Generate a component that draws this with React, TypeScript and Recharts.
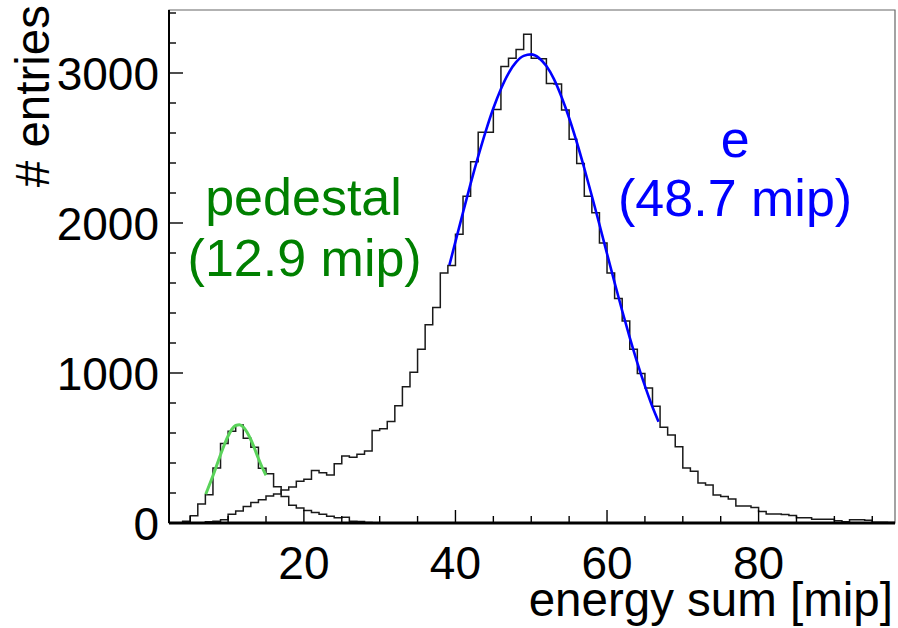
import React from 'react';
import { ComposedChart, Line, XAxis, YAxis, ReferenceArea, ReferenceDot } from 'recharts';

// Pedestal histogram: lower bin edges and counts (bin width 1 mip)
const pedestalBins = [3, 4, 5, 6, 7, 8, 9, 10, 11, 12, 13, 14, 15, 16, 17, 18, 19, 20, 21, 22, 23, 24, 25, 26, 27, 28, 29];
const pedestalCounts = [0, 12, 48, 126, 188, 367, 530, 611, 654, 565, 505, 365, 328, 242, 177, 118, 100, 84, 70, 58, 45, 35, 38, 12, 10, 4, 0];

// Electron histogram
const electronBins = [6, 7, 8, 9, 10, 11, 12, 13, 14, 15, 16, 17, 18, 19, 20, 21, 22, 23, 24, 25, 26, 27, 28, 29, 30, 31, 32, 33, 34, 35, 36, 37, 38, 39, 40, 41, 42, 43, 44, 45, 46, 47, 48, 49, 50, 51, 52, 53, 54, 55, 56, 57, 58, 59, 60, 61, 62, 63, 64, 65, 66, 67, 68, 69, 70, 71, 72, 73, 74, 75, 76, 77, 78, 79, 80, 81, 82, 83, 84, 85, 86, 87, 88, 89, 90, 91, 92, 93, 94, 95, 96, 97];
const electronCounts = [0, 8, 12, 22, 58, 80, 110, 137, 155, 180, 193, 220, 240, 278, 292, 350, 335, 320, 395, 447, 438, 458, 480, 617, 628, 677, 782, 908, 1005, 1158, 1321, 1437, 1667, 1716, 1925, 2178, 2409, 2605, 2605, 2757, 3043, 3098, 3156, 3258, 3098, 3095, 2930, 2926, 2753, 2558, 2397, 2179, 2068, 1867, 1667, 1496, 1347, 1158, 997, 900, 778, 639, 587, 508, 366, 345, 266, 253, 187, 176, 160, 113, 113, 104, 76, 60, 60, 57, 50, 35, 35, 25, 25, 25, 15, 8, 22, 22, 18, 5, 5, 3];

// Fitted curves
const greenFitX = [7.05, 7.5, 8, 8.5, 9, 9.5, 10, 10.5, 11, 11.5, 12, 12.5, 13, 13.5, 14, 14.5, 15];
const greenFitY = [192, 250, 315, 385, 455, 522, 580, 625, 650, 655, 640, 605, 555, 495, 430, 370, 318];
const blueFitX = [39.2, 40, 41, 42, 43, 44, 45, 46, 47, 48, 49, 50, 51, 52, 53, 54, 55, 56, 57, 58, 59, 60, 61, 62, 63, 64, 65, 66, 66.8];
const blueFitY = [1719, 1876, 2071, 2262, 2444, 2613, 2765, 2894, 2998, 3072, 3114, 3124, 3101, 3046, 2959, 2840, 2700, 2540, 2365, 2180, 1990, 1795, 1603, 1415, 1236, 1068, 914, 773, 675];

// Axes
const xTicks = [5, 10, 15, 20, 25, 30, 35, 40, 45, 50, 55, 60, 65, 70, 75, 80, 85, 90, 95];
const xMajor = [20, 40, 60, 80];
const yTicks = [0, 200, 400, 600, 800, 1000, 1200, 1400, 1600, 1800, 2000, 2200, 2400, 2600, 2800, 3000, 3200, 3400];
const yMajor = [0, 1000, 2000, 3000];
const X_MIN = 2.2;
const X_MAX = 98;
const Y_MAX = 3420;

// Annotations
const annotationText = ['pedestal', '(12.9 mip)', 'e', '(48.7 mip)'];
const annotationX = [19.95, 20.1, 76.9, 76.9];
const annotationY = [2177, 1773, 2563, 2173];
const annotationColor = ['#008000', '#008000', '#0000ff', '#0000ff'];

const FONT = '"Liberation Sans", Arial, Helvetica, sans-serif';

const toSteps = (edges: number[], counts: number[]) => {
  const pts = edges.map((e, i) => ({ x: e, y: counts[i] }));
  pts.push({ x: edges[edges.length - 1] + 1, y: counts[counts.length - 1] });
  return pts;
};
const toPts = (xs: number[], ys: number[]) => xs.map((x, i) => ({ x, y: ys[i] }));

const pedestalData = toSteps(pedestalBins, pedestalCounts);
const electronData = toSteps(electronBins, electronCounts);
const greenData = toPts(greenFitX, greenFitY);
const blueData = toPts(blueFitX, blueFitY);

const XTick = (props: any) => {
  const { x, y, payload } = props;
  const v = payload.value;
  const major = xMajor.includes(v);
  return (
    <g>
      <line x1={x} x2={x} y1={y} y2={y - (major ? 13 : 7)} stroke="#000" strokeWidth={1.4} />
      {major && (
        <text x={x} y={y + 56} textAnchor="middle" fontSize={46} fontFamily={FONT} fill="#000">
          {v}
        </text>
      )}
    </g>
  );
};

const YTick = (props: any) => {
  const { x, y, payload } = props;
  const v = payload.value;
  const major = yMajor.includes(v);
  return (
    <g>
      <line x1={x} x2={x + (major ? 14 : 7)} y1={y} y2={y} stroke="#000" strokeWidth={1.4} />
      {major && (
        <text x={x - 10} y={y} dy="0.36em" textAnchor="end" fontSize={46} fontFamily={FONT} fill="#000">
          {v}
        </text>
      )}
    </g>
  );
};

const XTitle = (props: any) => {
  const vb = props.viewBox || { x: 169, y: 523, width: 726, height: 60 };
  return (
    <text x={vb.x + vb.width - 2} y={vb.y + 93} textAnchor="end" fontSize={47.5} fontFamily={FONT} fill="#000">
      energy sum [mip]
    </text>
  );
};

const YTitle = (props: any) => {
  const vb = props.viewBox || { x: 9, y: 10, width: 160, height: 513 };
  const tx = vb.x + 40;
  const ty = vb.y - 5;
  return (
    <text x={tx} y={ty} transform={`rotate(-90 ${tx} ${ty})`} textAnchor="end" fontSize={47.5} fontFamily={FONT} fill="#000">
      # entries
    </text>
  );
};

export default function App() {
  return (
    <div style={{ position: 'absolute', left: 0, top: 0, width: 898, height: 628, background: '#fff' }}>
      <ComposedChart width={898} height={628} margin={{ top: 10, right: 3, bottom: 45, left: 9 }}>
        <XAxis
          dataKey="x"
          type="number"
          domain={[X_MIN, X_MAX]}
          allowDataOverflow
          ticks={xTicks}
          interval={0}
          tick={<XTick />}
          tickLine={false}
          tickSize={0}
          tickMargin={0}
          height={60}
          axisLine={{ stroke: '#000', strokeWidth: 3 }}
          label={{ content: <XTitle /> }}
        />
        <YAxis
          type="number"
          domain={[0, Y_MAX]}
          allowDataOverflow
          ticks={yTicks}
          interval={0}
          tick={<YTick />}
          tickLine={false}
          tickSize={0}
          tickMargin={0}
          width={160}
          axisLine={{ stroke: '#000', strokeWidth: 2 }}
          label={{ content: <YTitle /> }}
        />
        <ReferenceArea x1={X_MIN} x2={X_MAX} y1={0} y2={Y_MAX} fill="none" stroke="#666" strokeWidth={1.2} ifOverflow="visible" />
        <Line data={pedestalData} dataKey="y" type="stepAfter" stroke="#1a1a1a" strokeWidth={1.5} dot={false} activeDot={false} isAnimationActive={false} />
        <Line data={electronData} dataKey="y" type="stepAfter" stroke="#1a1a1a" strokeWidth={1.5} dot={false} activeDot={false} isAnimationActive={false} />
        <Line data={greenData} dataKey="y" type="monotone" stroke="#5ad35a" strokeWidth={3} dot={false} activeDot={false} isAnimationActive={false} />
        <Line data={blueData} dataKey="y" type="monotone" stroke="#0000ff" strokeWidth={2.6} dot={false} activeDot={false} isAnimationActive={false} />
        {annotationText.map((t, i) => (
          <ReferenceDot
            key={t}
            x={annotationX[i]}
            y={annotationY[i]}
            r={0}
            stroke="none"
            fill="none"
            ifOverflow="visible"
            label={{ value: t, position: 'center', fill: annotationColor[i], fontSize: 52, fontFamily: FONT }}
          />
        ))}
      </ComposedChart>
    </div>
  );
}
